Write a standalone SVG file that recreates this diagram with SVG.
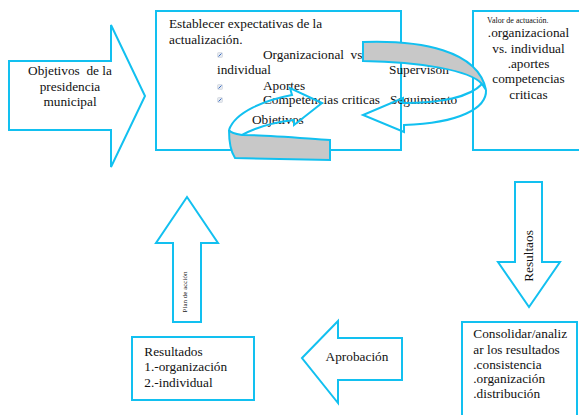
<svg xmlns="http://www.w3.org/2000/svg" width="579" height="415" viewBox="0 0 579 415">
<style>
.box{fill:#ffffff;stroke:#12C0F0;stroke-width:2}
.arw{fill:#ffffff;stroke:#12C0F0;stroke-width:2;stroke-linejoin:miter}
.open{fill:none;stroke:#12C0F0;stroke-width:2;stroke-linejoin:miter}
.band{fill:#C8C8C8;stroke:#12C0F0;stroke-width:2}
.t{font-family:"Liberation Serif","Times New Roman",serif;font-size:13.3px;fill:#111111}
.s{font-family:"Liberation Serif","Times New Roman",serif;font-size:8px;fill:#111111}
.xs{font-family:"Liberation Serif","Times New Roman",serif;font-size:7px;fill:#111111}
.c{text-anchor:middle}
.bul{fill:#e4e8ee;stroke:#c5cbd4;stroke-width:0.5}
.bulm{stroke:#3b6fc4;stroke-width:1}
</style>
<rect width="579" height="415" fill="#ffffff"/>

<g id="main-box">
<rect class="box" x="156" y="11" width="245" height="139"/>
<text class="t" x="169" y="28.3">Establecer expectativas de la</text>
<text class="t" x="169" y="44.3">actualización.</text>
<g id="bullets">
<rect class="bul" x="217.5" y="52.5" width="5" height="5" rx="1"/><line class="bulm" x1="218.5" y1="56.5" x2="221.5" y2="53.5"/>
<rect class="bul" x="217.5" y="84.5" width="5" height="5" rx="1"/><line class="bulm" x1="218.5" y1="88.5" x2="221.5" y2="85.5"/>
<rect class="bul" x="217.5" y="97.5" width="5" height="5" rx="1"/><line class="bulm" x1="218.5" y1="101.5" x2="221.5" y2="98.5"/>
</g>
<text class="t" x="263" y="59" xml:space="preserve">Organizacional  vs</text>
<text class="t" x="217" y="74">individual</text>
<text class="t" x="389" y="73.5">Supervisón</text>
<text class="t" x="263" y="90">Aportes</text>
<text class="t" x="263" y="104">Competencias criticas</text>
<text class="t" x="390" y="103.5">Seguimiento</text>
<text class="t" x="252" y="124">Objetivos</text>
</g>

<g id="valor-box">
<rect class="box" x="473" y="11" width="115" height="139"/>
<text class="s" x="487" y="23">Valor de actuación.</text>
<text class="t c" x="528.5" y="37.3">.organizacional</text>
<text class="t c" x="528.5" y="53.3">vs. individual</text>
<text class="t c" x="528.5" y="68.3">.aportes</text>
<text class="t c" x="528.5" y="83.3">competencias</text>
<text class="t c" x="528.5" y="99">criticas</text>
</g>

<g id="resultados-box">
<rect class="box" x="132" y="337" width="122" height="63"/>
<text class="t" x="144.3" y="355.7">Resultados</text>
<text class="t" x="144.3" y="371">1.-organización</text>
<text class="t" x="144.3" y="386.7">2.-individual</text>
</g>

<g id="consolidar-box">
<rect class="box" x="462" y="322" width="115" height="100"/>
<text class="t" x="473.3" y="338.3">Consolidar/analiz</text>
<text class="t" x="473.3" y="353.5">ar los resultados</text>
<text class="t" x="473.3" y="368.5">.consistencia</text>
<text class="t" x="473.3" y="383">.organización</text>
<text class="t" x="473.3" y="398">.distribución</text>
</g>

<g id="connectors">
<g id="arrow-objetivos">
<polygon class="arw" points="9,61 111,61 111,25 145,96 111,167 111,130 9,130"/>
<text class="t c" x="70" y="75" xml:space="preserve">Objetivos  de la</text>
<text class="t c" x="70" y="90.5">presidencia</text>
<text class="t c" x="70" y="106">municipal</text>
</g>
<g id="arrow-resultaos">
<polygon class="arw" points="515,182 542,182 542,262 560,262 529,307 498,262 515,262"/>
<text class="t c" transform="translate(532.5,256) rotate(-90)" x="0" y="0">Resultaos</text>
</g>
<g id="arrow-aprobacion">
<polygon class="arw" points="302,358 338,321 338,338 402,338 402,380 338,380 338,403"/>
<text class="t c" x="357" y="360.7">Aprobación</text>
</g>
<g id="arrow-plan">
<polygon class="arw" points="187,197 218,243 201,243 201,322 173,322 173,243 156,243"/>
<text class="xs c" transform="translate(186.5,292) rotate(-90)" x="0" y="0">Plan de acción</text>
</g>
<g id="curved-arrow-right">
<path class="band" d="M363,42 C420,40 478,50 486,90 L482,84 C470,70 420,62 363,61 Z"/>
<path class="open" d="M486,90 C487,108 460,123 404,125 L404,132 L363,115 L403,98 L403,103 C440,103 470,97 482,84"/>
</g>
<g id="curved-arrow-left">
<path class="band" d="M229,130 C229,140 231,152 235,158 L330,160 L330,140 C300,138 265,135 242,135 C236,134 230,132 229,130 Z"/>
<path class="open" d="M242,135 C255,128 275,122 294,120 L294,125 L322,103 L290,88 L292,95 C265,100 235,112 229,130"/>
</g>
</g>
</svg>
